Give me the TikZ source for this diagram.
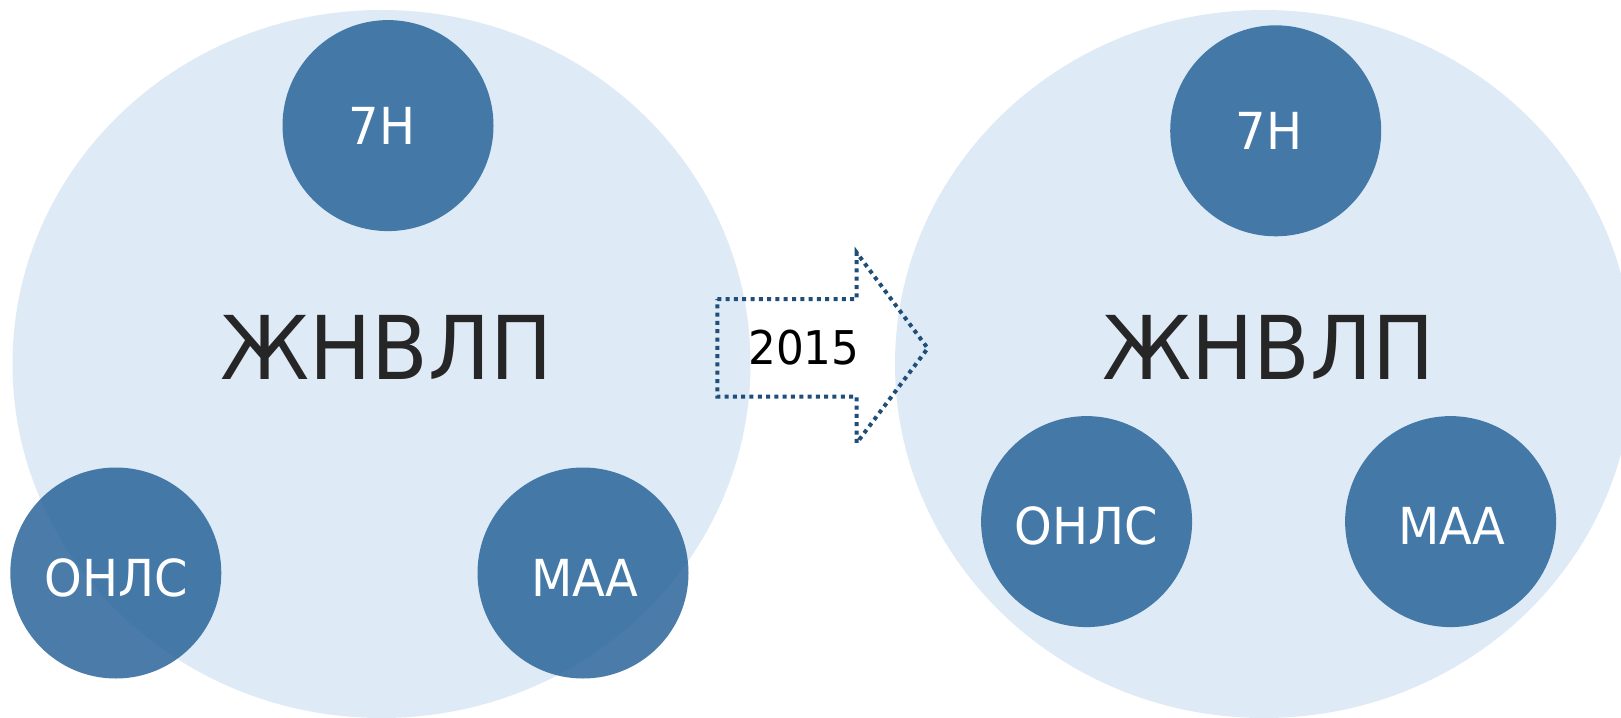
\documentclass[tikz,border=0pt]{standalone}
\usepackage{fontspec}
\setmainfont{DejaVu Sans}[FakeStretch=0.94]
\usetikzlibrary{shapes.geometric}
\definecolor{ellfill}{RGB}{222,235,247}
\definecolor{circfill}{RGB}{30,92,148}
\definecolor{arrowline}{RGB}{31,78,121}
\definecolor{darktext}{RGB}{38,38,38}
\tikzset{
  bigell/.style={ellipse, fill=ellfill, inner sep=0pt, minimum width=738pt, minimum height=708pt},
  smallcirc/.style={circle, fill=circfill, fill opacity=0.8, text opacity=1, inner sep=0pt, minimum size=211pt},
  circlabel/.style={text=white, font=\fontsize{51}{51}\selectfont, inner sep=0pt},
  biglabel/.style={text=darktext, font=\fontsize{88}{88}\selectfont, inner sep=0pt},
  yearlabel/.style={text=black, font=\fontsize{46.5}{46.5}\selectfont, inner sep=0pt},
  dotline/.style={draw=arrowline, line width=4pt, dash pattern=on 4pt off 4.3pt}
}
\begin{document}
\begin{tikzpicture}[x=1pt,y=-1pt]
\useasboundingbox (0,0) rectangle (1621,717);
\clip (0,0) rectangle (1621,717);
\fill[white] (0,0) rectangle (1621,717);
% big ellipses
\node[bigell] (eL) at (381.5,364) {};
\node[bigell] (eR) at (1264,364) {};
% left circles
\node[smallcirc] (c7L) at (388,125.6) {};
\node[smallcirc] (cOL) at (115.8,573) {};
\node[smallcirc] (cML) at (583,573) {};
% right circles
\node[smallcirc] (c7R) at (1275.7,130.8) {};
\node[smallcirc] (cOR) at (1086.6,521.6) {};
\node[smallcirc] (cMR) at (1450.6,521.6) {};
% labels
\node[circlabel] (t7L) at (382,125.6) {7Н};
\node[circlabel] (tOL) at (116.3,578) {ОНЛС};
\node[circlabel] (tML) at (584.6,578) {МАА};
\node[circlabel] (t7R) at (1269,130.8) {7Н};
\node[circlabel] (tOR) at (1086.5,525.7) {ОНЛС};
\node[circlabel] (tMR) at (1452,525.7) {МАА};
\node[biglabel] (gL) at (386.6,347.4) {ЖНВЛП};
\node[biglabel] (gR) at (1268.5,347.4) {ЖНВЛП};
% arrow
\coordinate (a1) at (717.3,299);
\coordinate (a2) at (856.7,299);
\coordinate (a3) at (856.7,252.7);
\coordinate (a4) at (927.7,348.3);
\coordinate (a5) at (856.7,443);
\coordinate (a6) at (856.7,396.7);
\coordinate (a7) at (717.3,396.7);
\draw[dotline] (a1) -- (a2) -- (a3) -- (a4) -- (a5) -- (a6) -- (a7) -- cycle;
\node[yearlabel] (year) at (804,348) {2015};
\end{tikzpicture}
\end{document}
